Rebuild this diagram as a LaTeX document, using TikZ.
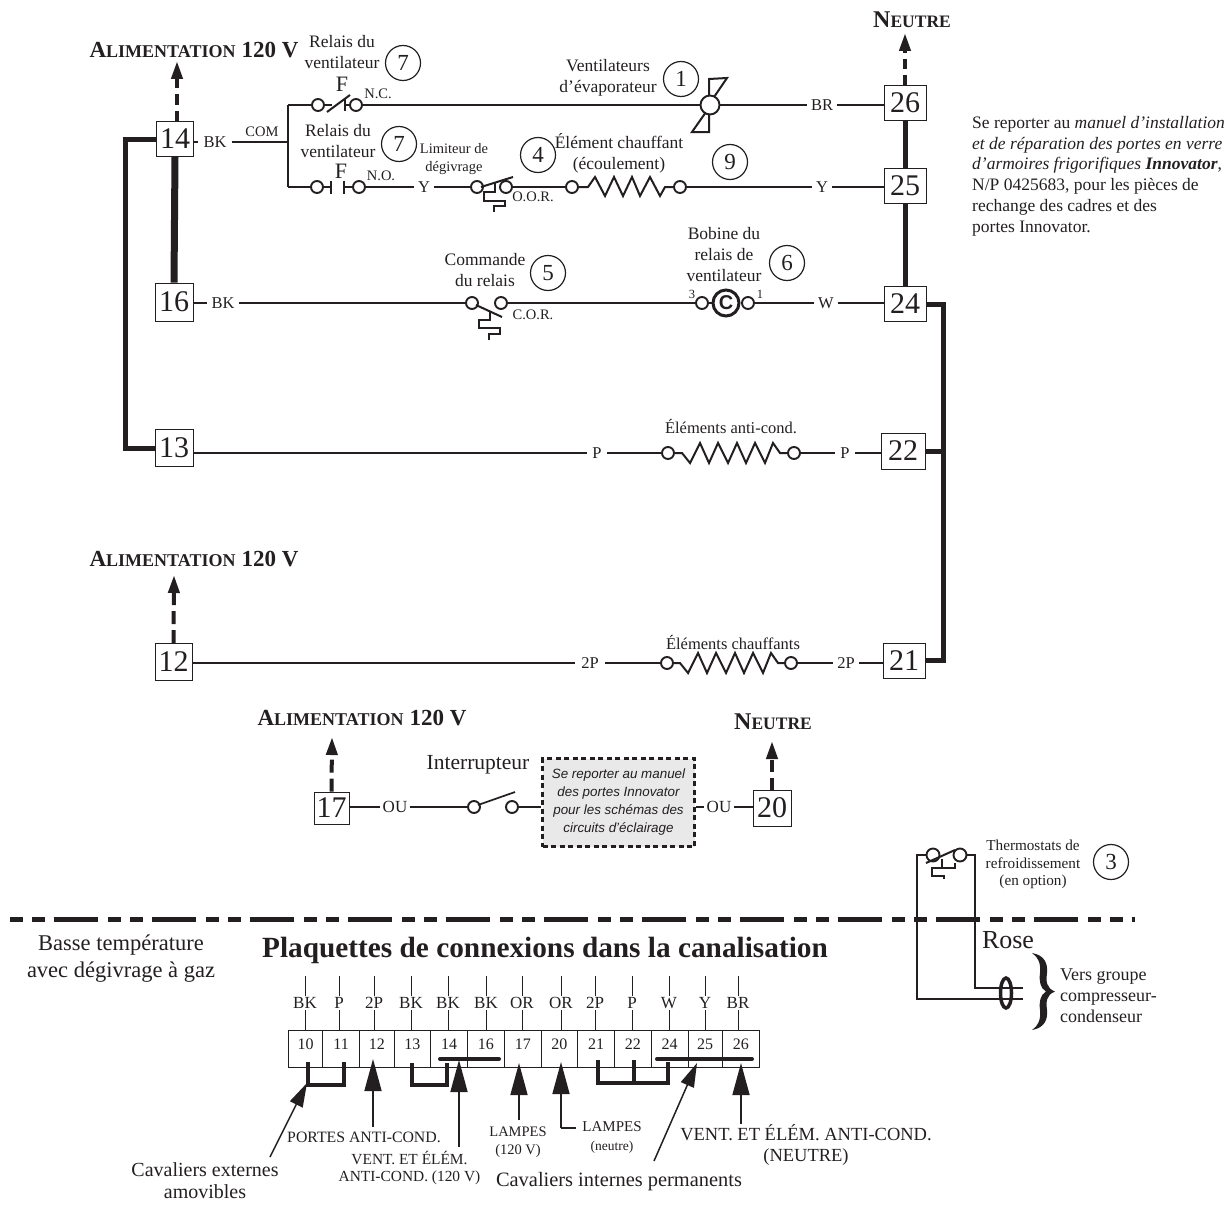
\documentclass[tikz,border=0pt]{standalone}
\usepackage{fontspec}
\setmainfont{Liberation Serif}
\setsansfont{Liberation Sans}
\usetikzlibrary{arrows.meta,calc,shapes.geometric}
\definecolor{ink}{HTML}{231F20}
\definecolor{panel}{HTML}{E9E9EA}
\newcommand{\fs}[1]{\fontsize{#1}{#1}\selectfont}
\newcommand{\capsb}[2]{{\fs{23}\bfseries #1}{\fs{18}\bfseries #2}}
\newcommand{\capsc}[2]{{\fs{24}\bfseries #1}{\fs{17.5}\bfseries #2}}
\newcommand{\alimtxt}{\capsb{A}{LIMENTATION}\hspace{6pt}\capsb{120 V}{}}
\tikzset{
  wire/.style={line width=1.3pt},
  bus/.style={line width=5pt},
  fatbus/.style={line width=7pt},
  part/.style={line width=2pt},
  termbox/.style={draw,line width=0.9pt,minimum width=37pt,minimum height=35pt,inner sep=0pt,fill=white,font=\fontsize{30}{30}\selectfont},
  lbl/.style={inner sep=0pt,minimum width=20pt,minimum height=14pt,font=\fontsize{16.5}{18}\selectfont},
  note/.style={inner sep=0pt,align=center,font=\fontsize{17.5}{21}\selectfont},
  small/.style={inner sep=0pt,align=center,font=\fontsize{14.5}{17.5}\selectfont},
  numc/.style={draw,circle,line width=1.2pt,minimum size=35pt,inner sep=0pt,font=\fontsize{23}{23}\selectfont},
  ct/.style={draw,circle,line width=1.9pt,minimum size=12pt,inner sep=0pt,fill=white},
  dashup/.style={line width=4pt,dash pattern=on 11pt off 6pt,-{Triangle[length=18pt,width=11pt]}},
  cell/.style={draw,line width=0.8pt,minimum height=37pt,inner sep=0pt,anchor=west,font=\fontsize{16}{16}\selectfont},
  strip/.style={inner sep=0pt,minimum width=24pt,minimum height=14pt,font=\fontsize{17}{17}\selectfont},
  jump/.style={line width=4.5pt,line join=miter},
  jumptop/.style={line width=4pt,line cap=round},
  bigarrow/.style={line width=1.6pt,-{Triangle[length=32pt,width=17pt]}},
  thinarrow/.style={line width=1.5pt,-{Triangle[length=24pt,width=14pt]}},
  sep/.style={line width=5pt,dash pattern=on 12.7pt off 9.3pt on 12.7pt off 9pt on 44.7pt off 9.6pt},
  relayF/.style={inner sep=0pt,font=\fontsize{22}{22}\selectfont},
}
\begin{document}
\begin{tikzpicture}[x=1pt,y=-1pt,color=ink]
\useasboundingbox (0,0) rectangle (1230,1212);

% ---- terminal boxes
\node[termbox] (b14) at (175,139) {14};
\node[termbox,minimum width=38pt,minimum height=38pt] (b16) at (174,302) {16};
\node[termbox,minimum width=38pt,minimum height=37pt] (b13) at (174,448) {13};
\node[termbox,minimum height=37pt] (b12) at (173.5,662) {12};
\node[termbox,minimum width=42pt] (b26) at (905,103) {26};
\node[termbox,minimum width=42pt] (b25) at (905,186) {25};
\node[termbox,minimum width=42pt] (b24) at (905,304) {24};
\node[termbox,minimum width=44pt,minimum height=36pt] (b22) at (903,451) {22};
\node[termbox,minimum width=42pt] (b21) at (904,660.5) {21};
\node[termbox,minimum width=35pt,minimum height=32pt] (b17) at (331.5,808) {17};
\node[termbox,minimum width=38pt,minimum height=36pt] (b20) at (772,808) {20};

% ---- buses
\draw[fatbus] (b14.south) -- (b16.north);
\draw[bus] (b14.west) -- ++(-31,0) coordinate (busL) -- (busL |- b13.west) -- (b13.west);
\draw[bus] (b26.south) -- (b25.north);
\draw[bus] (b25.south) -- (b24.north);
\coordinate (busR) at (943,304);
\draw[bus] (b24.east) -- (busR) -- (busR |- b21.east) -- (b21.east);
\draw[bus] (b22.east) -- (busR |- b22.east);

% ---- supply arrows
\node[inner sep=0pt] (alim1) at (194,50) {\alimtxt};
\node[inner sep=0pt] (alim2) at (194,559) {\alimtxt};
\node[inner sep=0pt] (alim3) at (362,718) {\alimtxt};
\node[inner sep=0pt] (neu1) at (912,20) {\capsc{N}{EUTRE}};
\node[inner sep=0pt] (neu2) at (773,722) {\capsc{N}{EUTRE}};
\coordinate (t14) at (177,61);
\coordinate (t26) at (905,33);
\coordinate (t12) at (174,575);
\coordinate (t17) at (332,737);
\coordinate (t20) at (772,741);
\draw[dashup] (177,122) -- (t14);
\draw[dashup,dash pattern=on 10pt off 6pt] (b26.north) -- (t26);
\draw[dashup,dash pattern=on 13pt off 6pt] (b12.north) -- (t12);
\draw[dashup,dash pattern=on 13pt off 6pt] (b17.north) -- (t17);
\draw[dashup,dash pattern=on 12pt off 6pt] (b20.north) -- (t20);

% ---- COM / fan relay
\node[lbl,minimum width=33pt] (lbk1) at (215,142) {BK};
\node[small] (lcom) at (262,132) {COM};
\coordinate (jmid) at (288,142);
\coordinate (jtop) at (288,105);
\coordinate (jbot) at (288,187);
\draw[wire] (b14.east |- lbk1) -- (lbk1);
\draw[wire] (lbk1) -- (jmid);
\draw[wire] (jtop) -- (jbot);

% N.C. contact
\node[ct] (nc1) at (318,105) {};
\node[ct] (nc2) at (356,105) {};
\draw[wire] (jtop) -- (nc1);
\draw[part] (nc1) -- (332,105);
\draw[part] (327,112) -- (350,95);
\draw[part] (345,98) -- (345,111);
\draw[part] (345,105) -- (nc2);
\node[relayF] (f1) at (342,84) {F};
\node[small] (lnc) at (378,94) {N.C.};
\node[note] (rel1) at (342,52) {Relais du\\ventilateur};
\node[numc] (n7a) at (403,63) {7};

% N.O. contact
\node[ct] (no1) at (317,187) {};
\node[ct] (no2) at (359,187) {};
\draw[wire] (jbot) -- (no1);
\draw[part] (no1) -- (331,187);
\draw[part] (331,180.5) -- (331,194);
\draw[part] (344,180.5) -- (344,194);
\draw[part] (344,187) -- (no2);
\node[relayF] (f2) at (341,171) {F};
\node[small] (lno) at (381,176) {N.O.};
\node[note] (rel2) at (338,141) {Relais du\\ventilateur};
\node[numc] (n7b) at (399,144) {7};
\node[lbl] (ly1) at (424,187) {Y};
\draw[wire] (no2) -- (ly1);

% defrost limiter
\node[ct] (oor1) at (477,187) {};
\node[ct] (oor2) at (506,187) {};
\draw[wire] (ly1) -- (oor1);
\draw[part] (481,187) -- (513,177);
\draw[part] (495,182) -- (495,192) -- (484,192) -- (484,201) -- (505,201) -- (505,206) -- (494,206) -- (494,212);
\node[small] (lim) at (454,159) {Limiteur de\\dégivrage};
\node[small] (loor) at (533,197) {O.O.R.};
\node[numc] (n4) at (538,155) {4};

% drain heater
\node[ct] (h1) at (572,187) {};
\node[ct] (h2) at (680,187) {};
\draw[wire] (oor2) -- (h1);
\draw[part] (h1) -- (588,187) -- (595,177) -- (605,196) -- (614,177) -- (623,196) -- (632,177) -- (640,196) -- (650,177) -- (660,196) -- (665,187) -- (h2);
\node[note] (drain) at (619,153.5) {Élément chauffant\\(écoulement)};
\node[numc] (n9) at (730,162) {9};
\node[lbl] (ly2) at (822,187) {Y};
\draw[wire] (h2) -- (ly2);
\draw[wire] (ly2) -- (b25.west |- ly2);

% evaporator fan
\coordinate (fanc) at (710,105);
\draw[part,line join=miter] (709,100) -- (709,79) -- (727,78) -- (712,100);
\draw[part,line join=miter] (709,112) -- (709,132) -- (692,132) -- (706,112);
\node[ct,minimum size=19pt] (fan) at (fanc) {};
\draw[wire] (nc2) -- (fan);
\node[lbl,minimum width=30pt] (lbr) at (822,105) {BR};
\draw[wire] (fan) -- (lbr);
\draw[wire] (lbr) -- (b26.west |- lbr);
\node[note] (evap) at (608,77.5) {Ventilateurs\\d’évaporateur};
\node[numc] (n1) at (681,79) {1};

% relay control row
\node[lbl,minimum width=32pt] (lbk2) at (223,303) {BK};
\node[ct] (cor1) at (472,303) {};
\node[ct] (cor2) at (501,303) {};
\draw[wire] (b16.east |- lbk2) -- (lbk2);
\draw[wire] (lbk2) -- (cor1);
\draw[part] (476,305) -- (502,317);
\draw[part] (490,311) -- (490,320) -- (479,320) -- (479,328) -- (500,328) -- (500,334) -- (489,334) -- (489,340);
\node[note] (cmd) at (485,270) {Commande\\du relais};
\node[numc] (n5) at (548,273) {5};
\node[small] (lcor) at (533,315) {C.O.R.};
\node[ct] (co1) at (702,303) {};
\node[ct] (co2) at (748,303) {};
\node[draw,circle,line width=3pt,minimum size=26pt,inner sep=0pt,font=\sffamily\bfseries\fontsize{20}{20}\selectfont] (coil) at (726,303) {C};
\draw[wire] (cor2) -- (co1);
\draw[part] (co1) -- (coil);
\draw[part] (coil) -- (co2);
\node[inner sep=0pt,font=\fontsize{12.5}{12.5}\selectfont] (l3) at (692,294) {3};
\node[inner sep=0pt,font=\fontsize{12.5}{12.5}\selectfont] (l1) at (760,294) {1};
\node[note] (bob) at (724,254.5) {Bobine du\\relais de\\ventilateur};
\node[numc] (n6) at (787,263) {6};
\node[lbl,minimum width=23pt] (lw) at (826,303) {W};
\draw[wire] (co2) -- (lw);
\draw[wire] (lw) -- (b24.west |- lw);

% anti-condensation row
\node[lbl] (lp1) at (597,453) {P};
\node[ct] (ac1) at (668,453) {};
\node[ct] (ac2) at (794,453) {};
\draw[wire] (b13.east |- lp1) -- (lp1);
\draw[wire] (lp1) -- (ac1);
\draw[part] (ac1) -- (682,453) -- (690,463) -- (700,443) -- (709,463) -- (718,443) -- (728,463) -- (737,443) -- (746,463) -- (755,443) -- (765,463) -- (773,443) -- (780,453) -- (ac2);
\node[note,font=\fontsize{16.5}{18}\selectfont] (eac) at (731,427) {Éléments anti-cond.};
\node[lbl] (lp2) at (845,453) {P};
\draw[wire] (ac2) -- (lp2);
\draw[wire] (lp2) -- (b22.west |- lp2);

% heater row
\node[lbl,minimum width=30pt] (l2p1) at (590,663) {2P};
\node[ct] (ht1) at (667,663) {};
\node[ct] (ht2) at (791,663) {};
\draw[wire] (b12.east |- l2p1) -- (l2p1);
\draw[wire] (l2p1) -- (ht1);
\draw[part] (ht1) -- (680,663) -- (688,673) -- (698,653) -- (707,673) -- (716,653) -- (726,673) -- (735,653) -- (744,673) -- (753,653) -- (763,673) -- (771,653) -- (778,663) -- (ht2);
\node[note,font=\fontsize{16.5}{18}\selectfont] (ech) at (733,642) {Éléments chauffants};
\node[lbl,minimum width=26pt] (l2p2) at (846,663) {2P};
\draw[wire] (ht2) -- (l2p2);
\draw[wire] (l2p2) -- (b21.west |- l2p2);

% lamp switch row
\node[lbl,font=\fontsize{17}{18}\selectfont,minimum width=30pt] (lou1) at (395,807) {OU};
\node[ct] (sw1) at (474,807) {};
\node[ct] (sw2) at (512,807) {};
\node[draw,line width=2.6pt,dash pattern=on 5pt off 3.5pt,fill=panel,minimum width=152pt,minimum height=88pt,inner sep=0pt,align=center,font=\sffamily\itshape\fontsize{13.4}{18}\selectfont] (gbox) at (618.5,802.5) {Se reporter au manuel\\des portes Innovator\\pour les schémas des\\circuits d’éclairage};
\node[lbl,font=\fontsize{17}{18}\selectfont,minimum width=30pt] (lou2) at (719,807) {OU};
\draw[wire] (b17.east |- lou1) -- (lou1);
\draw[wire] (lou1) -- (sw1);
\draw[wire] (sw2) -- (gbox.west |- sw2);
\draw[wire] (gbox.east |- lou2) -- (lou2);
\draw[wire] (lou2) -- (b20.west |- lou2);
\draw[line width=1.7pt] (478,805) -- (515,792);
\node[note,font=\fontsize{21.5}{22}\selectfont] (inter) at (478,765) {Interrupteur};

% reference note
\node[inner sep=0pt,anchor=north west,align=left,font=\fontsize{17.5}{20.8}\selectfont] (refnote) at (972,116) {Se reporter au \textit{manuel d’installation}\\\textit{et de réparation des portes en verre}\\\textit{d’armoires frigorifiques} \textbf{\textit{Innovator}},\\N/P 0425683, pour les pièces de\\rechange des cadres et des\\portes Innovator.};

% ---- separator
\coordinate (sepL) at (10,919);
\coordinate (sepR) at (1135,919);
\draw[sep] (sepL) -- (sepR);

% ---- refrigeration thermostat
\node[ct,minimum size=13pt] (th1) at (933,855) {};
\node[ct,minimum size=13pt] (th2) at (960,855) {};
\node[draw,ellipse,line width=3.5pt,minimum width=11pt,minimum height=30pt,inner sep=0pt] (ring) at (1006,993) {};
\coordinate (end1) at (1023,988);
\coordinate (end2) at (1023,999);
\draw[wire] (th1) -- (917,855) -- (917,999) -- (end2);
\draw[wire] (th2) -- (975,855) -- (975,988) -- (end1);
\draw[part] (926,863) -- (955,850);
\draw[part] (942,859) -- (942,868);
\draw[part] (955,863) -- (955,868) -- (932,868) -- (932,876) -- (944,876) -- (944,879);
\node[small,font=\fontsize{15.2}{17.6}\selectfont] (tht) at (1033,864.5) {Thermostats de\\refroidissement\\(en option)};
\node[numc] (n3) at (1111,862) {3};
\node[inner sep=0pt,font=\fontsize{26}{26}\selectfont] (rose) at (1008,940) {Rose};
\fill (1032,953) .. controls (1044,955) and (1048,963) .. (1047,973) .. controls (1046,981) and (1046,988) .. (1055,991.5) .. controls (1046,995) and (1046,1002) .. (1047,1010) .. controls (1048,1020) and (1044,1028) .. (1032,1030) .. controls (1038,1026) and (1041,1020) .. (1040,1010) .. controls (1039,1002) and (1040,995) .. (1046,991.5) .. controls (1040,988) and (1039,981) .. (1040,973) .. controls (1041,963) and (1038,957) .. (1032,953) -- cycle;
\node[inner sep=0pt,anchor=west,align=left,font=\fontsize{18}{21}\selectfont] (vers) at (1060,996) {Vers groupe\\compresseur-\\condenseur};

% ---- lower left text and title
\node[note,font=\fontsize{22.5}{26.5}\selectfont] (basse) at (121,958.5) {Basse température\\avec dégivrage à gaz};
\node[inner sep=0pt,font=\bfseries\fontsize{29.3}{30}\selectfont] (title) at (545,950) {Plaquettes de connexions dans la canalisation};

% ---- terminal strip
\foreach \nm/\xa/\xb/\tx in {10/288.3/322.3/10,11/322.3/359/11,12/359/393.7/12,13/393.7/430.3/13,14/430.3/467/14,16/467/504/16,17/504/540.7/17,20/540.7/577.3/20,21/577.3/614.3/21,22/614.3/650.7/22,24/650.7/687.7/24,25/687.7/721.7/25,26/721.7/759/26}{
  \pgfmathsetmacro{\cellw}{\xb-\xa}
  \node[cell,minimum width=\cellw pt] (c\nm) at (\xa,1048.5) {};
  \node[inner sep=0pt,font=\fontsize{16}{16}\selectfont] (cn\nm) at ($(c\nm.center)+(0,-4)$) {\tx};
}
\foreach \nm/\x/\tx in {10/305/BK,11/339/P,12/374/2P,13/411/BK,14/448/BK,16/486/BK,17/522/OR,20/561/OR,21/595/2P,22/632/P,24/669/W,25/705/Y,26/738/BR}{
  \node[strip] (s\nm) at (\x,1003) {\tx};
  \coordinate (u\nm) at (\x,976);
  \draw[line width=0.8pt] (s\nm.north) -- (u\nm);
  \draw[line width=0.8pt] (s\nm.south) -- (s\nm.south |- c\nm.north);
}
% jumpers
\draw[jump] (308,1062) -- (308,1085) -- (344,1085) -- (344,1062);
\draw[jump] (412,1063) -- (412,1085) -- (447,1085) -- (447,1063);
\draw[jump] (598,1060) -- (598,1083) -- (668,1083) -- (668,1062);
\draw[jump] (634,1060) -- (634,1083);
\draw[jumptop] (440,1059) -- (499,1059);
\draw[jumptop] (657,1059) -- (752,1059);

% arrows and captions
\node[small,font=\fontsize{15.8}{16}\selectfont] (pac) at (364,1137) {PORTES ANTI-COND.};
\node[small,font=\fontsize{15.4}{17}\selectfont] (vac) at (409.5,1168.5) {VENT. ET ÉLÉM.\\ANTI-COND. (120 V)};
\node[small,font=\fontsize{14.5}{18}\selectfont] (l120) at (518,1142) {LAMPES\\(120 V)};
\node[small,font=\fontsize{15}{19}\selectfont] (lneu) at (612,1137.5) {LAMPES\\{\fontsize{13.5}{13.5}\selectfont (neutre)}};
\node[small,font=\fontsize{18.5}{21}\selectfont] (vneu) at (806,1145.5) {VENT. ET ÉLÉM. ANTI-COND.\\(NEUTRE)};
\node[note,font=\fontsize{20.4}{21}\selectfont] (cint) at (619,1182) {Cavaliers internes permanents};
\node[note,font=\fontsize{20}{22}\selectfont] (cext) at (205,1181) {Cavaliers externes\\amovibles};
\coordinate (a12) at (373,1127);
\coordinate (a14) at (459,1147);
\coordinate (a17) at (519,1120);
\coordinate (a20) at (561,1128);
\coordinate (a26) at (741,1124);
\coordinate (d1) at (270,1157);
\coordinate (d2) at (654,1161);
\coordinate (tip12) at (373,1059);
\coordinate (tip14) at (459,1060);
\coordinate (tip17) at (519,1063);
\coordinate (tip20) at (561,1062);
\coordinate (tip26) at (741,1063);
\coordinate (tipd1) at (307,1083);
\coordinate (tipd2) at (697,1063);
\draw[bigarrow] (a12) -- (tip12);
\draw[bigarrow] (a14) -- (tip14);
\draw[bigarrow] (a17) -- (tip17);
\draw[bigarrow] (a20) -- (tip20);
\draw[bigarrow] (a26) -- (tip26);
\draw[line width=1.6pt] (a20) -- ($(lneu.west |- a20)+(-6,0)$);
\draw[thinarrow] (d1) -- (tipd1);
\draw[thinarrow] (d2) -- (tipd2);
\end{tikzpicture}
\end{document}
